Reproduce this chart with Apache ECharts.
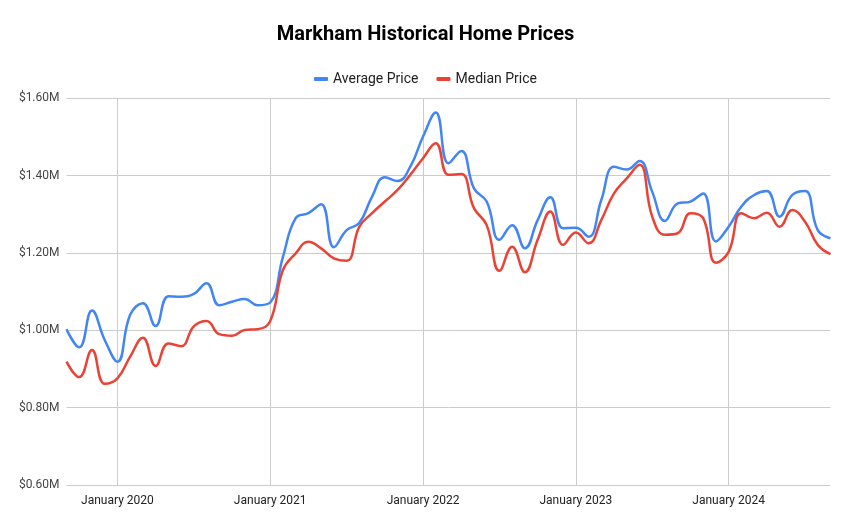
<!DOCTYPE html>
<html>
<head>
<meta charset="utf-8">
<script src="https://cdn.jsdelivr.net/npm/echarts@6/dist/echarts.min.js"></script>
<style>
html,body{margin:0;padding:0;background:#fff;}
#chart{width:851px;height:525px;}
</style>
</head>
<body>
<div id="chart"></div>
<script>
// Monthly points, Sep 2019 .. Sep 2024
const months = [
  "2019-09","2019-10","2019-11","2019-12",
  "2020-01","2020-02","2020-03","2020-04","2020-05","2020-06","2020-07","2020-08","2020-09","2020-10","2020-11","2020-12",
  "2021-01","2021-02","2021-03","2021-04","2021-05","2021-06","2021-07","2021-08","2021-09","2021-10","2021-11","2021-12",
  "2022-01","2022-02","2022-03","2022-04","2022-05","2022-06","2022-07","2022-08","2022-09","2022-10","2022-11","2022-12",
  "2023-01","2023-02","2023-03","2023-04","2023-05","2023-06","2023-07","2023-08","2023-09","2023-10","2023-11","2023-12",
  "2024-01","2024-02","2024-03","2024-04","2024-05","2024-06","2024-07","2024-08","2024-09"
];
// values in $ millions
const averagePrice = [
  1.003,0.956,1.051,0.975,
  0.919,1.040,1.070,1.011,1.088,1.087,1.094,1.122,1.065,1.074,1.081,1.065,
  1.072,1.190,1.290,1.303,1.326,1.215,1.259,1.278,1.346,1.396,1.386,1.423,
  1.501,1.563,1.432,1.464,1.367,1.333,1.234,1.272,1.212,1.285,1.344,1.264,
  1.265,1.242,1.337,1.423,1.416,1.438,1.358,1.283,1.328,1.333,1.354,1.230,
  1.268,1.320,1.350,1.360,1.294,1.350,1.360,1.259,1.238
];
const medianPrice = [
  0.919,0.879,0.949,0.862,
  0.876,0.932,0.981,0.908,0.966,0.959,1.010,1.024,0.990,0.986,1.001,1.003,
  1.024,1.156,1.199,1.229,1.212,1.186,1.180,1.268,1.303,1.333,1.363,1.402,
  1.445,1.484,1.402,1.404,1.316,1.272,1.154,1.216,1.150,1.234,1.307,1.221,
  1.253,1.225,1.285,1.354,1.393,1.428,1.294,1.247,1.251,1.303,1.290,1.175,
  1.203,1.303,1.290,1.304,1.268,1.311,1.281,1.221,1.197
];
const monthNames = ["January","February","March","April","May","June","July","August","September","October","November","December"];
const seriesNames = ["Average Price","Median Price"];
const titleText = "Markham Historical Home Prices";
const yMin = 0.6, yMax = 1.6, yStep = 0.2;

const isJan = v => v.slice(5) === "01";
const chart = echarts.init(document.getElementById('chart'), null, {renderer:'canvas'});
const font = 'Roboto, Arial, sans-serif';
chart.setOption({
  animation: false,
  backgroundColor: '#ffffff',
  title: {
    text: titleText, left: 'center', top: 20,
    textStyle: {fontFamily: font, fontSize: 20, fontWeight: 'bold', color: '#000'}
  },
  legend: {
    data: seriesNames, left: 'center', top: 67, itemGap: 18,
    itemWidth: 14, itemHeight: 4, icon: 'roundRect',
    textStyle: {fontFamily: font, fontSize: 14, color: '#222'}
  },
  grid: {left: 66.5, right: 20.5, top: 98.3, bottom: 40, containLabel: false},
  xAxis: {
    type: 'category', data: months, boundaryGap: false,
    axisLine: {show: false}, axisTick: {show: false},
    axisLabel: {
      interval: (i, v) => isJan(v), margin: 10,
      formatter: v => monthNames[parseInt(v.slice(5), 10) - 1] + ' ' + v.slice(0, 4),
      fontFamily: font, fontSize: 12, color: '#222'
    },
    splitLine: {show: true, interval: (i, v) => isJan(v), lineStyle: {color: '#cccccc', width: 1}}
  },
  yAxis: {
    type: 'value', min: yMin, max: yMax, interval: yStep,
    axisLine: {show: false}, axisTick: {show: false},
    axisLabel: {
      formatter: v => '$' + v.toFixed(2) + 'M', margin: 7,
      fontFamily: font, fontSize: 12, color: '#444'
    },
    splitLine: {lineStyle: {color: '#cccccc', width: 1}}
  },
  series: [
    {name: seriesNames[0], type: 'line', data: averagePrice, smooth: 0.45, symbol: 'none',
     lineStyle: {color: '#4285F4', width: 2.5}, itemStyle: {color: '#4285F4'}},
    {name: seriesNames[1], type: 'line', data: medianPrice, smooth: 0.45, symbol: 'none',
     lineStyle: {color: '#EA4335', width: 2.5}, itemStyle: {color: '#EA4335'}}
  ]
});
</script>
</body>
</html>
